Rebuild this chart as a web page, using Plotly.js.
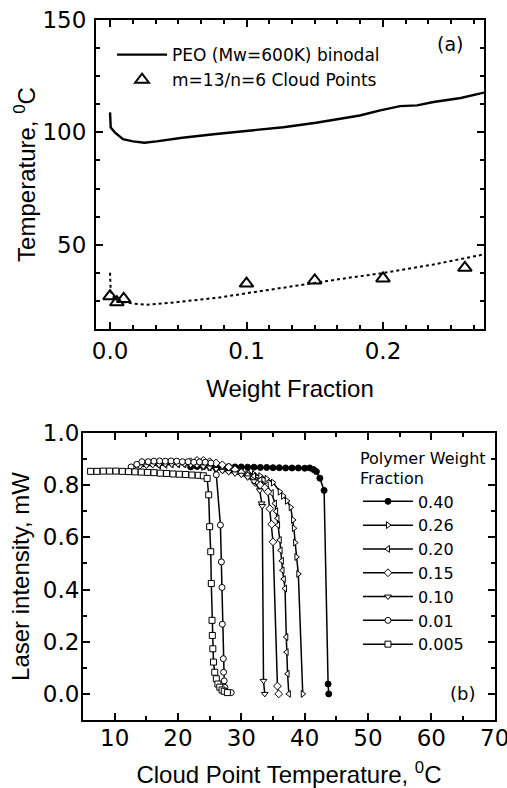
<!DOCTYPE html>
<html>
<head>
<meta charset="utf-8">
<script src="https://cdn.plot.ly/plotly-3.0.1.min.js"></script>
<style>html,body{margin:0;padding:0;background:#fff;}#chart{width:507px;height:788px;}</style>
</head>
<body>
<div id="chart"></div>
<script>
// ---- Panel (a): phase diagram ----
const binodalX = [0.0, 0.0005, 0.0035, 0.0095, 0.0168, 0.0253, 0.034, 0.053, 0.0776, 0.099, 0.127, 0.151, 0.183, 0.198, 0.2125, 0.225, 0.237, 0.257, 0.274];
const binodalY = [108.9, 102.2, 100, 97, 96, 95.4, 96, 97.6, 99.3, 100.5, 102.3, 104.3, 107.5, 109.8, 111.7, 112, 113.5, 115.3, 117.7];
const cloudX = [0.0, 0.005, 0.01, 0.1, 0.15, 0.2, 0.26];
const cloudY = [27.1, 24.4, 25.9, 32.7, 34.1, 35.0, 39.7];
const dottedX = [0.0, 0.0005, 0.003, 0.008, 0.0176, 0.027, 0.045, 0.063, 0.08, 0.1, 0.125, 0.15, 0.175, 0.2, 0.237, 0.274];
const dottedY = [37.5, 29.3, 26, 24.6, 23.8, 23.3, 24.2, 25.5, 26.5, 28.4, 30.7, 33.2, 35.3, 37.4, 41.2, 45.7];

// ---- Panel (b): laser intensity vs temperature ----
const seriesNames = ["0.40", "0.26", "0.20", "0.15", "0.10", "0.01", "0.005"];
const s040X = [22, 23, 24, 25, 26, 27, 28, 29, 30, 31, 32, 33, 34, 35, 36, 37, 38, 39, 40, 40.8, 41.4, 41.85, 42.4, 43.07, 43.7, 43.8];
const s040Y = [0.87, 0.872, 0.872, 0.873, 0.872, 0.871, 0.871, 0.87, 0.87, 0.869, 0.869, 0.868, 0.868, 0.867, 0.867, 0.866, 0.866, 0.866, 0.865, 0.866, 0.86, 0.852, 0.827, 0.78, 0.038, 0.0];
const s026X = [24, 25, 26, 27, 28, 29, 30, 31, 32, 33, 34, 35, 36.07, 36.6, 37.2, 37.8, 38.17, 38.3, 38.5, 38.7, 39.0, 39.7];
const s026Y = [0.87, 0.868, 0.866, 0.863, 0.86, 0.856, 0.852, 0.848, 0.842, 0.835, 0.825, 0.81, 0.775, 0.759, 0.74, 0.715, 0.667, 0.635, 0.58, 0.525, 0.46, 0.0];
const s020X = [17, 18, 19, 20, 21, 22, 23, 24, 25, 26, 27, 28, 29, 30, 31, 32, 33, 34, 34.8, 35.3, 35.5, 35.7, 35.8, 36.07, 36.2, 36.4, 36.5, 36.7, 36.9, 37.1, 37.15, 37.3, 37.5];
const s020Y = [0.875, 0.878, 0.88, 0.88, 0.88, 0.878, 0.875, 0.872, 0.868, 0.865, 0.86, 0.858, 0.855, 0.85, 0.845, 0.835, 0.82, 0.80, 0.77, 0.73, 0.70, 0.673, 0.647, 0.59, 0.55, 0.51, 0.474, 0.44, 0.404, 0.218, 0.16, 0.077, 0.0];
const s015X = [21, 22, 23, 24, 25, 26, 27, 28, 29, 30, 31, 32.2, 33.0, 33.7, 34.2, 34.5, 34.8, 35.0, 35.7, 35.9];
const s015Y = [0.885, 0.89, 0.895, 0.895, 0.89, 0.885, 0.878, 0.87, 0.86, 0.848, 0.835, 0.81, 0.80, 0.79, 0.775, 0.71, 0.65, 0.583, 0.03, 0.0];
const s010X = [13, 14, 15, 16, 17, 18, 19, 20, 21, 22, 23, 24, 25, 26, 27, 28, 29, 30, 31, 32, 32.9, 33.2, 33.3, 33.5, 33.7];
const s010Y = [0.87, 0.872, 0.875, 0.877, 0.878, 0.88, 0.88, 0.88, 0.88, 0.878, 0.876, 0.872, 0.868, 0.862, 0.855, 0.85, 0.845, 0.84, 0.83, 0.815, 0.78, 0.73, 0.72, 0.05, 0.0];
const s001X = [12.6, 13.5, 14.3, 15.3, 16.2, 17.1, 18.0, 18.9, 19.8, 20.7, 21.6, 22.5, 23.4, 24.3, 25.2, 26.05, 26.7, 26.85, 26.95, 27.0, 27.16, 27.2, 27.3, 27.4, 27.6, 28.4];
const s001Y = [0.87, 0.88, 0.89, 0.89, 0.892, 0.893, 0.892, 0.893, 0.892, 0.89, 0.89, 0.888, 0.889, 0.888, 0.885, 0.84, 0.647, 0.506, 0.408, 0.267, 0.135, 0.083, 0.05, 0.025, 0.01, 0.005];
const s0005X = [6.2, 7.2, 8.2, 9.2, 10.2, 11.2, 12.2, 13.2, 14.2, 15.2, 16.2, 17.2, 18.2, 19.2, 20.2, 21.2, 22.2, 23.2, 24.0, 24.6, 24.85, 25.0, 25.17, 25.26, 25.37, 25.42, 25.5, 25.6, 25.8, 26.05, 26.3, 26.6, 26.95, 27.3, 27.8];
const s0005Y = [0.853, 0.853, 0.854, 0.854, 0.854, 0.853, 0.852, 0.851, 0.85, 0.849, 0.848, 0.846, 0.845, 0.843, 0.842, 0.841, 0.839, 0.838, 0.836, 0.826, 0.763, 0.641, 0.545, 0.423, 0.282, 0.224, 0.173, 0.122, 0.083, 0.058, 0.038, 0.026, 0.015, 0.01, 0.005];

const TFONT = "Liberation Sans, Arial, Helvetica, sans-serif";
const WFONT = "DejaVu Sans, Verdana, sans-serif";

const bX = [s040X, s026X, s020X, s015X, s010X, s001X, s0005X];
const bY = [s040Y, s026Y, s020Y, s015Y, s010Y, s001Y, s0005Y];
const bSym = ["circle", "triangle-right", "triangle-left", "diamond", "triangle-down", "circle", "square"];
const bFill = ["black", "white", "white", "white", "white", "white", "white"];

const traces = [
  {x: binodalX, y: binodalY, xaxis: "x", yaxis: "y", mode: "lines", name: "PEO (Mw=600K) binodal",
   line: {color: "black", width: 2.4}, legend: "legend"},
  {x: cloudX, y: cloudY, xaxis: "x", yaxis: "y", mode: "markers", name: "m=13/n=6 Cloud Points",
   marker: {symbol: "triangle-up-open", size: 12, color: "black", line: {color: "black", width: 2}}, legend: "legend"},
  {x: dottedX, y: dottedY, xaxis: "x", yaxis: "y", mode: "lines", showlegend: false,
   line: {color: "black", width: 2, dash: "dot"}}
];
for (let i = 0; i < seriesNames.length; i++) {
  traces.push({x: bX[i], y: bY[i], xaxis: "x2", yaxis: "y2", mode: "lines+markers", name: seriesNames[i],
    line: {color: "black", width: 1.5},
    marker: {symbol: bSym[i], size: 6, color: bFill[i], line: {color: "black", width: 1}},
    legend: "legend2"});
}

const minorTick = {ticks: "inside", ticklen: 4, tickwidth: 2, tickcolor: "black"};
function ax(extra) {
  return Object.assign({
    showline: true, linecolor: "black", linewidth: 2, mirror: "allticks",
    ticks: "inside", ticklen: 7, tickwidth: 2, tickcolor: "black",
    showgrid: false, zeroline: false, ticklabeloverflow: "allow",
    tickfont: {family: WFONT, size: 23, color: "black"}
  }, extra);
}
function ttl(text, standoff) {
  return {text: text, font: {family: TFONT, size: 24, color: "black"}, standoff: standoff};
}

const layout = {
  width: 507, height: 788,
  margin: {l: 0, r: 0, t: 0, b: 0},
  paper_bgcolor: "white", plot_bgcolor: "white",
  font: {family: TFONT, color: "black"},
  xaxis: ax({domain: [0.1893, 0.9546], range: [-0.0103, 0.274], anchor: "y",
    tickvals: [0, 0.1, 0.2], ticktext: ["0.0", "0.1", "0.2"],
    minor: Object.assign({dtick: 0.1 / 6, tick0: 0}, minorTick),
    title: ttl("Weight Fraction", 18)}),
  yaxis: ax({domain: [0.5825, 0.9746], range: [12.5, 150], anchor: "x",
    tickvals: [50, 100, 150], ticklabelstandoff: 3,
    minor: Object.assign({dtick: 12.5, tick0: 0}, minorTick),
    title: ttl("Temperature, <sup>0</sup>C", 0)}),
  xaxis2: ax({domain: [0.1637, 0.9763], range: [5, 70.05], anchor: "y2",
    tickvals: [10, 20, 30, 40, 50, 60, 70], ticklabelstandoff: -4,
    minor: Object.assign({dtick: 5, tick0: 0}, minorTick),
    title: ttl("Cloud Point Temperature, <sup>0</sup>C", 22)}),
  yaxis2: ax({domain: [0.0863, 0.4505], range: [-0.1, 1.0], anchor: "x2",
    dtick: 0.2, tick0: 0, tickformat: ".1f", ticklabelstandoff: -3,
    minor: Object.assign({dtick: 0.1, tick0: 0}, minorTick),
    title: ttl("Laser intensity, mW", 6)}),
  legend: {x: 0.221, y: 0.953, xanchor: "left", yanchor: "top", bgcolor: "rgba(0,0,0,0)",
    font: {family: WFONT, size: 17, color: "black"}, itemwidth: 50, tracegroupgap: 0},
  legend2: {x: 0.706, y: 0.438, xanchor: "left", yanchor: "top", bgcolor: "rgba(0,0,0,0)",
    font: {family: WFONT, size: 16, color: "black"}, itemwidth: 50, tracegroupgap: 0,
    title: {text: "Polymer Weight<br>Fraction", font: {family: WFONT, size: 16, color: "black"}}},
  annotations: [
    {xref: "x", yref: "y", x: 0.249, y: 139.4, text: "(a)", showarrow: false,
     font: {family: WFONT, size: 19, color: "black"}},
    {xref: "x2", yref: "y2", x: 64.9, y: 0.0, text: "(b)", showarrow: false,
     font: {family: WFONT, size: 18, color: "black"}}
  ]
};

Plotly.newPlot("chart", traces, layout, {displayModeBar: false, staticPlot: true});
</script>
</body>
</html>
